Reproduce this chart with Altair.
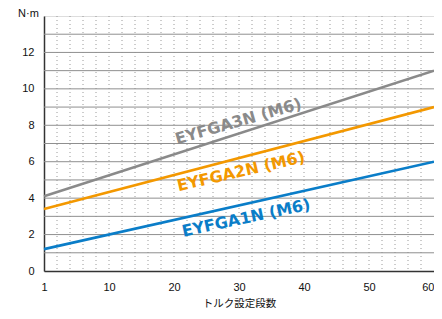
import altair as alt
import pandas as pd

# data
series = ["EYFGA1N (M6)", "EYFGA2N (M6)", "EYFGA3N (M6)"]
colors = ["#0a7dc8", "#f39800", "#8a8a8a"]
x_pos = [0, 60]               # axis position (label "1" sits at 0)
y_start = [1.2, 3.4, 4.1]
y_end = [6.0, 9.0, 11.0]
x_ticks = [0, 10, 20, 30, 40, 50, 60]
x_tick_labels = ["1", "10", "20", "30", "40", "50", "60"]
y_ticks = [0, 2, 4, 6, 8, 10, 12]
y_grid = list(range(1, 14))
x_dots = list(range(2, 60, 2))
label_x = [31.1, 30.3, 29.9]
label_y = [2.9, 5.45, 8.2]
label_angle = [348, 347, 344]

W, H = 390, 255

rows = []
for s, a, b in zip(series, y_start, y_end):
    rows.append({"series": s, "x": x_pos[0], "y": a})
    rows.append({"series": s, "x": x_pos[1], "y": b})
df = pd.DataFrame(rows)

lab = pd.DataFrame({"series": series, "x": label_x, "y": label_y, "angle": label_angle})

xs = alt.Scale(domain=[0, 60], nice=False, zero=False)
ys = alt.Scale(domain=[0, 14], nice=False)
cs = alt.Scale(domain=series, range=colors)

label_map = "{" + ",".join(f"'{v}':'{t}'" for v, t in zip(x_ticks, x_tick_labels)) + "}"

dots = alt.Chart(pd.DataFrame({"x": x_dots})).mark_rule(
    color="#9a9a9a", strokeWidth=1, strokeDash=[1, 3]
).encode(
    x=alt.X("x:Q", scale=xs,
            axis=alt.Axis(values=x_ticks, labelExpr=f"{label_map}[datum.value]",
                          labelAlign=alt.ExprRef("datum.value == 60 ? 'right' : 'center'"),
                          title="トルク設定段数", titleFont="Noto Sans CJK JP",
                          titleFontSize=10.5, titleFontWeight="normal", titleColor="#111",
                          titlePadding=6, labelFont="Liberation Sans", labelFontSize=11,
                          labelColor="#111", labelPadding=10, tickSize=0, grid=False,
                          domainColor="#333", domainWidth=1.5, labelFlush=False,
                          labelOverlap=False)),
    y=alt.value(0),
    y2=alt.value(H),
)

hgrid = alt.Chart(pd.DataFrame({"y": y_grid})).mark_rule(
    color="#8f8f8f", strokeWidth=1
).encode(
    y=alt.Y("y:Q", scale=ys,
            axis=alt.Axis(values=y_ticks, grid=False, tickSize=0, labelOverlap=False,
                          labelFont="Liberation Sans", labelFontSize=11, labelColor="#111",
                          labelPadding=10, domainColor="#333", domainWidth=1.5,
                          title="N·m", titleAngle=0, titleX=-16, titleY=0,
                          titleAlign="center", titleBaseline="alphabetic",
                          titleFont="Liberation Sans", titleFontSize=11,
                          titleFontWeight="normal", titleColor="#111")),
    x=alt.value(0),
    x2=alt.value(W),
)

lines = alt.Chart(df).mark_line(strokeWidth=2.6).encode(
    x=alt.X("x:Q", scale=xs),
    y=alt.Y("y:Q", scale=ys),
    color=alt.Color("series:N", scale=cs, legend=None),
)

texts = alt.Chart(lab).mark_text(
    font="DejaVu Sans", fontSize=16, fontWeight="bold", align="center", baseline="middle"
).encode(
    x=alt.X("x:Q", scale=xs),
    y=alt.Y("y:Q", scale=ys),
    text="series:N",
    angle=alt.Angle("angle:Q", scale=None),
    color=alt.Color("series:N", scale=cs, legend=None),
)

chart = alt.layer(dots, hgrid, lines, texts).properties(
    width=W, height=H,
    autosize="none",
    padding={"left": 36, "top": 8, "right": 0, "bottom": 40},
).configure_view(stroke="#333", strokeWidth=1.5).configure(background="white")

chart.save("out.html", embed_options={"renderer": "svg", "actions": False})
